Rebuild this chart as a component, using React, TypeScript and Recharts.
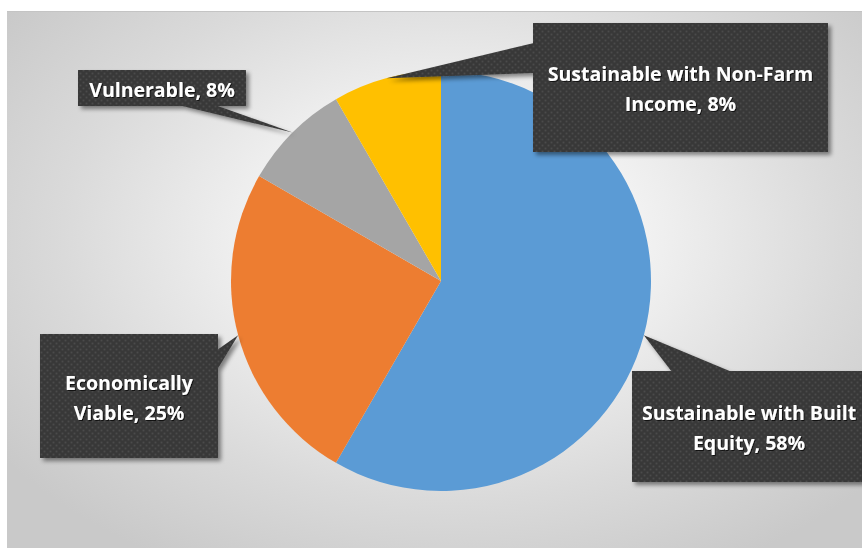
import { PieChart, Pie, Cell } from "recharts";

// slices, clockwise from 12 o'clock
const categories = [
  "Sustainable with Built Equity",
  "Economically Viable",
  "Vulnerable",
  "Sustainable with Non-Farm Income",
];
const shares = [7, 3, 1, 1];
const colors = ["#5B9BD5", "#ED7D31", "#A5A5A5", "#FFC000"];

// how each data label breaks over lines (percent gets appended to the last one)
const labelLines = [
  ["Sustainable with Built", "Equity"],
  ["Economically", "Viable"],
  ["Vulnerable"],
  ["Sustainable with Non-Farm", "Income"],
];

// callout boxes: offset of box from pie centre, size, and where the pointer leaves the box
type Callout = { dx: number; dy: number; w: number; h: number; side: "top" | "right" | "bottom" | "left"; a: number; b: number };
const callouts: Callout[] = [
  { dx: 191, dy: 90, w: 234, h: 111, side: "top", a: 40, b: 100 },
  { dx: -401, dy: 53, w: 178, h: 124, side: "right", a: 16, b: 36 },
  { dx: -363, dy: -211, w: 168, h: 36, side: "bottom", a: 100, b: 137 },
  { dx: 92, dy: -258, w: 295, h: 129, side: "left", a: 20, b: 50 },
];

const data = categories.map((name, i) => ({ name, value: shares[i] }));
const RAD = Math.PI / 180;

const renderLabel = (props: any) => {
  const { cx, cy, midAngle, outerRadius, percent, index } = props;
  const c = callouts[index];
  const x0 = cx + c.dx;
  const y0 = cy + c.dy;
  const tipX = cx + outerRadius * Math.cos(-midAngle * RAD);
  const tipY = cy + outerRadius * Math.sin(-midAngle * RAD);
  let p1: number[], p2: number[];
  if (c.side === "top") { p1 = [x0 + c.a, y0 + 1]; p2 = [x0 + c.b, y0 + 1]; }
  else if (c.side === "bottom") { p1 = [x0 + c.a, y0 + c.h - 1]; p2 = [x0 + c.b, y0 + c.h - 1]; }
  else if (c.side === "left") { p1 = [x0 + 1, y0 + c.a]; p2 = [x0 + 1, y0 + c.b]; }
  else { p1 = [x0 + c.w - 1, y0 + c.a]; p2 = [x0 + c.w - 1, y0 + c.b]; }
  const lines = [...labelLines[index]];
  lines[lines.length - 1] += `, ${Math.round(percent * 100)}%`;
  const lh = 30;
  const midY = y0 + c.h / 2 + 1;
  const firstY = midY - ((lines.length - 1) * lh) / 2;
  return (
    <g key={`lbl-${index}`}>
      <g filter="url(#boxShadow)">
        <path
          d={`M${p1[0]},${p1[1]} L${tipX},${tipY} L${p2[0]},${p2[1]} Z`}
          fill="url(#dots)"
        />
        <rect x={x0} y={y0} width={c.w} height={c.h} fill="url(#dots)" />
      </g>
      {lines.map((t, k) => (
        <text
          key={k}
          x={x0 + c.w / 2}
          y={firstY + k * lh}
          textAnchor="middle"
          dominantBaseline="central"
          fill="#ffffff"
          fontFamily="'Open Sans', Lato, sans-serif"
          fontWeight={700}
          fontSize={19.5}
          filter="url(#textShadow)"
        >
          {t}
        </text>
      ))}
    </g>
  );
};

export default function App() {
  return (
    <div
      style={{
        position: "absolute",
        left: 7,
        top: 11,
        width: 855,
        height: 536,
        borderTop: "1px solid #c4c4c4",
        background:
          "radial-gradient(ellipse 65% 70% at 52% 42%, #ffffff 0%, #f1f1f1 35%, #dadada 70%, #c9c9c9 100%)",
        overflow: "hidden",
      }}
    >
      <PieChart width={855} height={536}>
        <defs>
          <pattern id="dots" width="6" height="6" patternUnits="userSpaceOnUse">
            <rect width="6" height="6" fill="#393939" />
            <circle cx="1.5" cy="1.5" r="0.9" fill="#4b4b4b" />
            <circle cx="4.5" cy="4.5" r="0.9" fill="#4b4b4b" />
          </pattern>
          <filter id="boxShadow" x="-20%" y="-20%" width="140%" height="140%">
            <feDropShadow dx="3" dy="3" stdDeviation="2" floodColor="#000" floodOpacity="0.45" />
          </filter>
          <filter id="textShadow" x="-10%" y="-30%" width="120%" height="160%">
            <feDropShadow dx="1" dy="1" stdDeviation="0.6" floodColor="#000" floodOpacity="0.7" />
          </filter>
        </defs>
        <Pie
          data={data}
          dataKey="value"
          nameKey="name"
          cx={429}
          cy={264}
          outerRadius={210}
          startAngle={90}
          endAngle={-270}
          stroke="none"
          labelLine={false}
          label={renderLabel}
          isAnimationActive={false}
        >
          {data.map((d, i) => (
            <Cell key={d.name} fill={colors[i]} />
          ))}
        </Pie>
      </PieChart>
    </div>
  );
}
